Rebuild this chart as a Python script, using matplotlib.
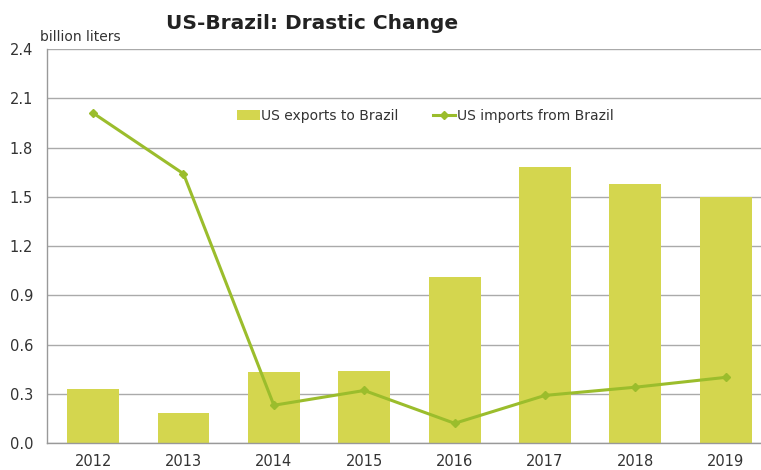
import matplotlib.pyplot as plt
import numpy as np

# data
years = ["2012", "2013", "2014", "2015", "2016", "2017", "2018", "2019"]
exports_to_brazil = [0.33, 0.18, 0.43, 0.44, 1.01, 1.68, 1.58, 1.50]
imports_from_brazil = [2.01, 1.64, 0.23, 0.32, 0.12, 0.29, 0.34, 0.40]
y_ticks = [0.0, 0.3, 0.6, 0.9, 1.2, 1.5, 1.8, 2.1, 2.4]

bar_color = "#d4d64e"
line_color = "#9bbd2c"
grid_color = "#aaaaaa"
text_color = "#333333"

fig = plt.figure(figsize=(7.61, 4.70), dpi=100)
ax = fig.add_axes([0.0618, 0.0574, 0.9382, 0.8383])

x = np.arange(len(years))
bars = ax.bar(x, exports_to_brazil, width=0.575, color=bar_color, label="US exports to Brazil", zorder=2)
line, = ax.plot(x, imports_from_brazil, color=line_color, linewidth=2.2, marker="D", markersize=4.5,
                label="US imports from Brazil", zorder=3)

ax.set_xlim(-0.51, 7.39)
ax.set_ylim(0, 2.4)
ax.set_xticks(x)
ax.set_xticklabels(years)
ax.set_yticks(y_ticks)
ax.set_yticklabels([f"{v:.1f}" for v in y_ticks])
ax.tick_params(axis="both", length=0, labelsize=10.5, colors=text_color)
ax.tick_params(axis="x", pad=8)
ax.tick_params(axis="y", pad=10)

ax.grid(axis="y", color=grid_color, linewidth=1.0, zorder=0)
ax.set_axisbelow(True)
for side in ["top", "right"]:
    ax.spines[side].set_visible(False)
for side in ["left", "bottom"]:
    ax.spines[side].set_color("#999999")
    ax.spines[side].set_linewidth(1.0)

fig.text(0.41, 0.95, "US-Brazil: Drastic Change", ha="center", va="center",
         fontsize=14.5, fontweight="bold", color="#222222")
fig.text(0.053, 0.921, "billion liters", ha="left", va="center", fontsize=10, color=text_color)

leg = ax.legend([bars, line], ["US exports to Brazil", "US imports from Brazil"],
                loc="center", bbox_to_anchor=(0.53, 0.83), ncol=2, frameon=False,
                fontsize=10, handlelength=1.6, handletextpad=0.1, columnspacing=2.5)
for t in leg.get_texts():
    t.set_color(text_color)

fig.savefig("out.png", dpi=100)
